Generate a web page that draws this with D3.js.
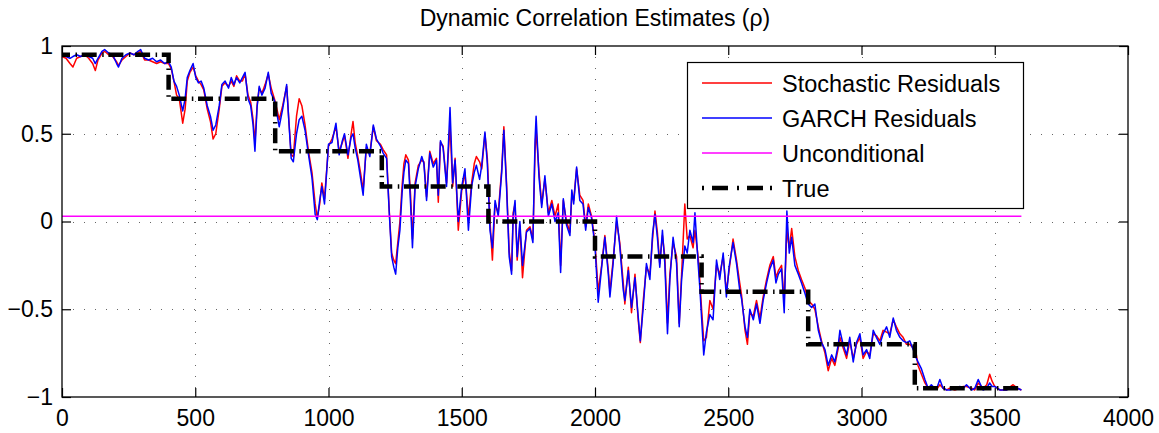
<!DOCTYPE html>
<html><head><meta charset="utf-8">
<script src="https://cdn.jsdelivr.net/npm/d3@7"></script>
<style>
body{margin:0;background:#fff}
text{font-family:"Liberation Sans",Arial,Helvetica,sans-serif;fill:#000}
</style>
</head><body>
<svg id="chart" width="1159" height="433"></svg>
<script>
// ---------- data ----------
const obsT = [0,15,30,41,55,70,85,100,115,125,135,150,160,175,190,205,212,225,240,255,270,285,295,310,325,340,355,370,385,400,
410,420,430,440,453,462,470,480,492,502,512,522,532,545,557,567,577,590,600,612,625,635,645,655,667,677,687,698,708,717,
724,732,740,750,762,774,785,797,808,815,828,843,852,860,868,880,890,900,912,925,938,950,958,967,975,985,1000,1013,1028,1040,
1052,1060,1073,1085,1092,1100,1110,1120,1130,1142,1155,1168,1180,1195,1205,1218,1228,1237,1245,1252,1260,1268,1276,1283,1290,1300,
1308,1315,1325,1337,1350,1358,1368,1380,1393,1405,1412,1420,1430,1443,1456,1466,1475,1487,1500,1512,1525,1537,1547,1555,1567,1575,
1587,1596,1606,1615,1625,1637,1650,1658,1668,1678,1687,1693,1700,1708,1718,1728,1743,1756,1767,1775,1779,1790,1800,1812,1825,1838,
1850,1862,1871,1881,1893,1906,1913,1920,1931,1943,1955,1965,1975,1987,2000,2012,2025,2037,2050,2056,2068,2081,2093,2106,2112,2125,
2137,2150,2162,2170,2181,2193,2206,2216,2225,2234,2243,2253,2262,2272,2281,2293,2306,2316,2325,2337,2346,2356,2368,2375,2387,2393,
2400,2408,2418,2431,2443,2456,2468,2481,2493,2503,2518,2531,2543,2550,2563,2572,2581,2594,2606,2619,2631,2644,2656,2669,2679,2688,
2700,2710,2720,2729,2738,2750,2763,2775,2788,2800,2813,2825,2838,2850,2863,2875,2888,2900,2913,2919,2931,2944,2956,2969,2981,2994,
3006,3019,3031,3044,3056,3069,3081,3094,3106,3119,3131,3144,3156,3169,3181,3194,3206,3212,3225,3238,3250,3262,3275,3285,3294,3306,
3320,3331,3350,3369,3382,3394,3413,3425,3438,3456,3470,3481,3490,3500,3519,3544,3560,3569,3585,3600];

const garchResiduals = [0.95,0.94,0.93,0.94,0.95,0.94,0.95,0.94,0.93,0.90,0.93,0.97,0.98,0.96,0.95,0.90,0.88,0.93,0.95,0.96,0.95,0.97,0.98,0.93,0.92,0.93,0.91,0.92,0.90,0.91,
0.88,0.80,0.77,0.72,0.63,0.70,0.82,0.86,0.90,0.82,0.79,0.80,0.76,0.66,0.60,0.52,0.55,0.66,0.78,0.80,0.76,0.82,0.78,0.82,0.79,0.82,0.85,0.70,0.66,0.55,
0.40,0.65,0.77,0.72,0.76,0.85,0.73,0.69,0.60,0.54,0.64,0.78,0.55,0.36,0.34,0.50,0.58,0.60,0.52,0.38,0.25,0.04,0.01,0.12,0.20,0.10,0.44,0.45,0.56,0.38,
0.46,0.50,0.38,0.48,0.50,0.42,0.35,0.25,0.15,0.44,0.37,0.55,0.47,0.43,0.39,0.36,0.05,-0.20,-0.26,-0.30,-0.15,-0.05,0.16,0.28,0.35,0.33,
0.10,-0.15,0.20,0.30,0.37,0.33,0.12,0.39,0.31,0.35,0.15,0.46,0.42,0.20,0.65,0.22,0.35,0.00,0.20,0.30,-0.05,0.20,0.28,0.32,0.24,0.32,
0.51,0.33,-0.05,-0.15,0.12,0.03,0.28,0.52,0.20,-0.20,-0.30,0.03,0.12,-0.20,0.00,-0.25,-0.06,-0.04,-0.12,0.46,0.60,0.25,0.08,0.26,0.03,0.10,
0.00,0.05,-0.29,0.13,-0.02,-0.08,0.18,0.10,0.31,0.12,0.10,-0.05,0.08,0.02,-0.14,-0.46,-0.26,-0.09,-0.30,-0.43,-0.24,0.03,-0.14,-0.39,-0.45,-0.28,
-0.49,-0.32,-0.54,-0.68,-0.49,-0.24,-0.33,-0.07,0.04,-0.09,-0.26,-0.05,-0.24,-0.64,-0.33,-0.09,-0.24,-0.60,-0.33,-0.14,-0.18,-0.05,-0.12,0.05,-0.24,-0.37,
-0.55,-0.76,-0.63,-0.53,-0.56,-0.22,-0.33,-0.18,-0.43,-0.26,-0.12,-0.24,-0.39,-0.44,-0.60,-0.66,-0.50,-0.56,-0.47,-0.58,-0.45,-0.35,-0.27,-0.22,-0.35,-0.30,
-0.27,-0.52,0.06,-0.18,-0.09,-0.25,-0.30,-0.35,-0.41,-0.47,-0.49,-0.47,-0.62,-0.69,-0.73,-0.82,-0.76,-0.80,-0.70,-0.62,-0.70,-0.76,-0.66,-0.80,-0.69,-0.64,
-0.76,-0.73,-0.78,-0.62,-0.66,-0.70,-0.64,-0.60,-0.66,-0.55,-0.62,-0.66,-0.68,-0.69,-0.68,-0.73,-0.78,-0.80,-0.84,-0.90,-0.95,-0.93,-0.95,-0.94,-0.90,-0.95,
-0.96,-0.96,-0.95,-0.94,-0.95,-0.93,-0.96,-0.95,-0.90,-0.96,-0.95,-0.92,-0.94,-0.94,-0.96,-0.96,-0.95,-0.95,-0.95,-0.96];

const stochasticResiduals = [0.94,0.93,0.90,0.88,0.93,0.94,0.95,0.93,0.90,0.86,0.92,0.96,0.97,0.95,0.94,0.91,0.89,0.92,0.94,0.96,0.95,0.96,0.97,0.92,0.92,0.91,0.90,0.91,0.90,0.90,
0.87,0.80,0.72,0.70,0.56,0.64,0.80,0.85,0.88,0.83,0.80,0.78,0.75,0.64,0.57,0.47,0.50,0.64,0.77,0.79,0.77,0.80,0.77,0.83,0.80,0.80,0.84,0.72,0.68,0.58,
0.45,0.66,0.76,0.73,0.78,0.84,0.76,0.70,0.63,0.58,0.66,0.77,0.56,0.38,0.37,0.60,0.70,0.66,0.55,0.40,0.28,0.10,0.02,0.10,0.22,0.13,0.43,0.47,0.54,0.40,
0.45,0.49,0.36,0.50,0.57,0.45,0.37,0.28,0.18,0.42,0.39,0.54,0.46,0.44,0.41,0.38,0.06,-0.18,-0.22,-0.24,-0.12,0.00,0.20,0.33,0.38,0.35,
0.15,-0.10,0.22,0.32,0.35,0.34,0.14,0.40,0.33,0.36,0.11,0.45,0.43,0.22,0.55,0.20,0.36,-0.05,0.18,0.28,0.02,0.22,0.33,0.37,0.34,0.30,
0.50,0.36,0.00,-0.22,0.10,0.05,0.30,0.54,0.22,-0.17,-0.28,0.05,0.10,-0.22,-0.02,-0.32,-0.05,-0.03,-0.10,0.40,0.52,0.28,0.10,0.24,0.05,0.12,
0.03,0.10,-0.25,0.12,0.00,-0.06,0.15,0.12,0.30,0.15,0.12,-0.03,0.10,0.03,-0.12,-0.40,-0.25,-0.08,-0.28,-0.40,-0.22,0.00,-0.12,-0.35,-0.47,-0.26,
-0.52,-0.30,-0.56,-0.69,-0.45,-0.26,-0.30,-0.10,0.06,-0.06,-0.24,-0.08,-0.20,-0.58,-0.30,-0.12,-0.20,-0.58,-0.30,0.10,-0.10,-0.08,-0.15,-0.05,-0.20,-0.33,
-0.50,-0.68,-0.66,-0.45,-0.50,-0.25,-0.30,-0.20,-0.40,-0.28,-0.10,-0.22,-0.35,-0.42,-0.62,-0.70,-0.52,-0.54,-0.45,-0.55,-0.43,-0.33,-0.25,-0.20,-0.32,-0.28,
-0.25,-0.45,-0.05,-0.15,-0.04,-0.20,-0.28,-0.33,-0.38,-0.45,-0.47,-0.50,-0.60,-0.68,-0.75,-0.85,-0.78,-0.82,-0.72,-0.66,-0.72,-0.78,-0.68,-0.78,-0.70,-0.66,
-0.78,-0.74,-0.76,-0.64,-0.65,-0.68,-0.62,-0.63,-0.64,-0.56,-0.60,-0.64,-0.66,-0.70,-0.70,-0.72,-0.76,-0.82,-0.87,-0.92,-0.95,-0.94,-0.95,-0.95,-0.93,-0.95,
-0.96,-0.95,-0.96,-0.95,-0.94,-0.94,-0.95,-0.96,-0.92,-0.95,-0.93,-0.87,-0.91,-0.94,-0.96,-0.96,-0.94,-0.93,-0.95,-0.96];

const unconditionalT = [0, 3600];
const unconditionalV = [0.03, 0.03];

const trueT = [0, 400, 800, 1200, 1600, 2000, 2400, 2800, 3200, 3600];
const trueV = [0.95, 0.7, 0.4, 0.2, 0, -0.2, -0.4, -0.7, -0.95, -0.95];

const xTicks = [0, 500, 1000, 1500, 2000, 2500, 3000, 3500, 4000];
const yTicks = [-1, -0.5, 0, 0.5, 1];
const yTickLabels = ["\u22121", "\u22120.5", "0", "0.5", "1"];

const title = "Dynamic Correlation Estimates (\u03c1)";
const seriesNames = ["Stochastic Residuals", "GARCH Residuals", "Unconditional", "True"];

// ---------- drawing ----------
const svg = d3.select("#chart");
const L = 62, R = 1128, T = 46, B = 397;
const x = d3.scaleLinear().domain([0, 4000]).range([L, R]);
const y = d3.scaleLinear().domain([-1, 1]).range([B, T]);

svg.append("rect").attr("width", 1159).attr("height", 433).attr("fill", "#fff");

// grid
const grid = svg.append("g").attr("stroke", "#666").attr("stroke-width", 1).attr("stroke-dasharray", "1,10");
grid.selectAll(".gx").data(xTicks.filter(d => d > 0 && d < 4000)).join("line")
  .attr("x1", d => Math.round(x(d)) + 0.5).attr("x2", d => Math.round(x(d)) + 0.5)
  .attr("y1", T).attr("y2", B);
grid.selectAll(".gy").data(yTicks.filter(d => d > -1 && d < 1)).join("line")
  .attr("y1", d => Math.round(y(d)) + 0.5).attr("y2", d => Math.round(y(d)) + 0.5)
  .attr("x1", L).attr("x2", R);

// series
const pts = (ts, vs) => ts.map((t, i) => [t, vs[i]]);
const line = d3.line().x(d => x(d[0])).y(d => y(d[1]));

svg.append("path").datum(pts(obsT, stochasticResiduals)).attr("d", line)
  .attr("fill", "none").attr("stroke", "#ff0000").attr("stroke-width", 1.5).attr("stroke-linejoin", "round");
svg.append("path").datum(pts(obsT, garchResiduals)).attr("d", line)
  .attr("fill", "none").attr("stroke", "#0000ff").attr("stroke-width", 1.5).attr("stroke-linejoin", "round");
svg.append("path").datum(pts(unconditionalT, unconditionalV)).attr("d", line)
  .attr("fill", "none").attr("stroke", "#ff00ff").attr("stroke-width", 1.3);
const stepLine = d3.line().x(d => x(d[0])).y(d => y(d[1])).curve(d3.curveStepAfter);
svg.append("path").datum(pts(trueT, trueV)).attr("d", stepLine)
  .attr("fill", "none").attr("stroke", "#000").attr("stroke-width", 4.5)
  .attr("stroke-dasharray", "15,5.5,1.5,4.7").attr("stroke-dashoffset", 7);

// axes
const fs = 23;
svg.append("g").attr("transform", `translate(0,${B})`)
  .call(d3.axisBottom(x).tickValues(xTicks).tickSize(-9).tickSizeOuter(0).tickPadding(13).tickFormat(d3.format("d")));
svg.append("g").attr("transform", `translate(${L},0)`)
  .call(d3.axisLeft(y).tickValues(yTicks).tickSize(-9).tickSizeOuter(0).tickPadding(9).tickFormat((d, i) => yTickLabels[i]));
svg.append("g").attr("transform", `translate(0,${T})`)
  .call(d3.axisTop(x).tickValues(xTicks).tickSize(-9).tickSizeOuter(0).tickFormat(""));
svg.append("g").attr("transform", `translate(${R},0)`)
  .call(d3.axisRight(y).tickValues(yTicks).tickSize(-9).tickSizeOuter(0).tickFormat(""));
svg.selectAll(".domain").remove();
svg.selectAll(".tick line").attr("stroke", "#000").attr("stroke-width", 1.2);
svg.selectAll(".tick text").attr("font-size", fs).attr("font-family", "Liberation Sans, Arial, sans-serif").attr("fill", "#000");

// box
svg.append("rect").attr("x", L).attr("y", T).attr("width", R - L).attr("height", B - T)
  .attr("fill", "none").attr("stroke", "#000").attr("stroke-width", 1.3);

// title
svg.append("text").attr("x", (L + R) / 2).attr("y", 26).attr("text-anchor", "middle")
  .attr("font-size", 23).text(title);

// legend
const lg = svg.append("g");
lg.append("rect").attr("x", 687.5).attr("y", 62.5).attr("width", 336).attr("height", 146)
  .attr("fill", "#fff").attr("stroke", "#000").attr("stroke-width", 1.2);
const legStyles = [
  {c: "#ff0000", w: 1.5, dash: null},
  {c: "#0000ff", w: 1.5, dash: null},
  {c: "#ff00ff", w: 1.3, dash: null},
  {c: "#000", w: 4.5, dash: "2,8,16,9,2,8,16,7,2,100"}
];
const legY = d3.scalePoint().domain(seriesNames).range([83, 188]);
seriesNames.forEach((name, i) => {
  const yy = legY(name);
  const s = legStyles[i];
  const ln = lg.append("line").attr("x1", 702).attr("x2", 772).attr("y1", yy).attr("y2", yy)
    .attr("stroke", s.c).attr("stroke-width", s.w);
  if (s.dash) ln.attr("stroke-dasharray", s.dash);
  lg.append("text").attr("x", 782).attr("y", yy + 8.5).attr("font-size", 23.5).text(name);
});
</script>
</body></html>
